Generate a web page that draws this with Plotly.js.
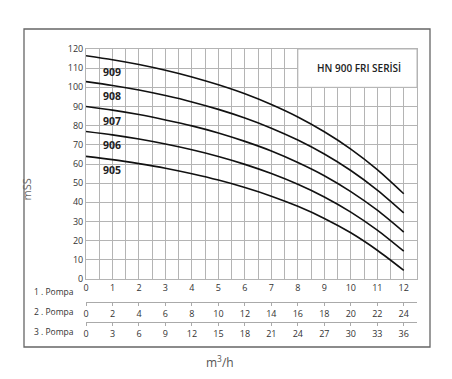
<!DOCTYPE html>
<html>
<head>
<meta charset="utf-8">
<script src="https://cdn.plot.ly/plotly-3.0.1.min.js"></script>
<style>html,body{margin:0;padding:0;background:#fff;}#chart{width:452px;height:379px;}</style>
</head>
<body>
<div id="chart"></div>
<script>
// Flow positions (1 pump scale)
const flow = [0, 1, 2, 3, 4, 5, 6, 7, 8, 9, 10, 11, 12];
// Tick labels of the three pump rows
const pompa1 = ["0","1","2","3","4","5","6","7","8","9","10","11","12"];
const pompa2 = ["0","2","4","6","8","10","12","14","16","18","20","22","24"];
const pompa3 = ["0","3","6","9","12","15","18","21","24","27","30","33","36"];
const rowNames = ["1 . Pompa", "2 . Pompa", "3 . Pompa"];
// Series (head in mSS)
const seriesNames = ["909", "908", "907", "906", "905"];
const h909 = [116.5, 114.4, 111.9, 108.9, 105.4, 101.3, 96.6, 91.0, 84.5, 76.8, 67.8, 57.1, 44.5];
const h908 = [103, 101.0, 98.6, 95.7, 92.4, 88.5, 84.0, 78.7, 72.5, 65.2, 56.6, 46.4, 34.5];
const h907 = [90, 88.1, 85.8, 83.0, 79.9, 76.2, 71.8, 66.8, 60.8, 53.9, 45.6, 35.9, 24.5];
const h906 = [77, 75.2, 73.0, 70.4, 67.4, 63.9, 59.8, 55.0, 49.4, 42.8, 34.9, 25.5, 14.5];
const h905 = [64, 62.3, 60.2, 57.8, 54.9, 51.6, 47.7, 43.2, 37.9, 31.6, 24.1, 15.0, 4.5];
const heads = [h909, h908, h907, h906, h905];
const labelY = [108, 95.5, 82.6, 70, 57];
const titleText = "HN 900 FRI SERİSİ";

const W = 452, H = 379;
const mL = 86, mR = 35, mT = 49, mB = 34;
const pw = W - mL - mR, ph = H - mT - mB;
const px2x = p => (p - mL) / pw;
const py2y = p => (H - mB - p) / ph;

const traces = heads.map((h, i) => ({
  x: flow, y: h, type: 'scatter', mode: 'lines', name: seriesNames[i],
  line: {color: '#111', width: 1.6, shape: 'spline', smoothing: 0.8},
  xaxis: 'x', yaxis: 'y', hoverinfo: 'skip', showlegend: false
}));
traces.push({x: [0], y: [0], xaxis: 'x2', yaxis: 'y', mode: 'markers', marker: {opacity: 0}, showlegend: false, hoverinfo: 'skip'});
traces.push({x: [0], y: [0], xaxis: 'x3', yaxis: 'y', mode: 'markers', marker: {opacity: 0}, showlegend: false, hoverinfo: 'skip'});

const gridC = '#b4b4b4';
const tickFont = {family: 'Open Sans, sans-serif', size: 9, color: '#333'};
const yDomBottom = py2y(279);

const annotations = seriesNames.map((n, i) => ({
  x: 0.55, y: labelY[i], xref: 'x', yref: 'y', text: n, showarrow: false,
  xanchor: 'left', yanchor: 'middle',
  font: {family: 'Open Sans, sans-serif', size: 10.5, color: '#222', weight: 'bold'}
}));
annotations.push({x: 10.3, y: 110, xref: 'x', yref: 'y', text: titleText, showarrow: false,
  font: {family: 'Open Sans, sans-serif', size: 10, color: '#222', weight: 600}});
const rowY = [291, 311, 331.5];
rowNames.forEach((r, i) => annotations.push({
  x: px2x(54), y: py2y(rowY[i]), xref: 'paper', yref: 'paper', text: r, showarrow: false,
  xanchor: 'center', yanchor: 'middle', font: {family: 'Open Sans, sans-serif', size: 8.5, color: '#333'}
}));
annotations.push({x: px2x(16), y: py2y(190), xref: 'paper', yref: 'paper', text: 'mSS', textangle: -90,
  showarrow: false, font: {family: 'Open Sans, sans-serif', size: 11, color: '#666'}});
annotations.push({x: px2x(220), y: py2y(362), xref: 'paper', yref: 'paper', text: 'm<sup>3</sup>/h',
  showarrow: false, yanchor: 'middle', font: {family: 'Open Sans, sans-serif', size: 12, color: '#555'}});

const layout = {
  width: W, height: H,
  margin: {l: mL, r: mR, t: mT, b: mB, pad: 0},
  paper_bgcolor: '#fff', plot_bgcolor: '#fff',
  showlegend: false,
  xaxis: {
    range: [0, 12.5], domain: [0, 1], anchor: 'y',
    tickvals: flow, ticktext: pompa1, ticks: '', ticklen: 0,
    showgrid: true, gridcolor: gridC, gridwidth: 1,
    minor: {dtick: 0.5, showgrid: true, gridcolor: gridC, gridwidth: 1},
    showline: true, linecolor: gridC, linewidth: 1, mirror: true,
    zeroline: false, tickfont: tickFont, fixedrange: true
  },
  xaxis2: {
    range: [0, 12.5], overlaying: 'x', anchor: 'free', position: py2y(301.7), side: 'bottom',
    tickvals: flow, ticktext: pompa2, ticks: 'outside', ticklen: 3, tickcolor: '#aaa',
    showgrid: false, showline: true, linecolor: '#aaa', linewidth: 1, zeroline: false,
    tickfont: tickFont
  },
  xaxis3: {
    range: [0, 12.5], overlaying: 'x', anchor: 'free', position: py2y(321.7), side: 'bottom',
    tickvals: flow, ticktext: pompa3, ticks: 'outside', ticklen: 3, tickcolor: '#aaa',
    showgrid: false, showline: true, linecolor: '#aaa', linewidth: 1, zeroline: false,
    tickfont: tickFont
  },
  yaxis: {
    range: [0, 120], domain: [yDomBottom, 1], dtick: 10, tick0: 0,
    showgrid: true, gridcolor: gridC, gridwidth: 1,
    showline: true, linecolor: gridC, linewidth: 1, mirror: true,
    zeroline: false, ticks: '', ticklen: 0, tickfont: tickFont, fixedrange: true
  },
  shapes: [
    {type: 'rect', xref: 'x', yref: 'y', x0: 8, x1: 12.5, y0: 100, y1: 120,
     fillcolor: '#fff', line: {color: gridC, width: 1}, layer: 'above'},
    {type: 'rect', xref: 'paper', yref: 'paper', x0: px2x(24), x1: px2x(430), y0: py2y(347), y1: py2y(29),
     fillcolor: 'rgba(0,0,0,0)', line: {color: '#666', width: 1.3}}
  ],
  annotations: annotations
};

Plotly.newPlot('chart', traces, layout, {displayModeBar: false, staticPlot: true});
</script>
</body>
</html>
